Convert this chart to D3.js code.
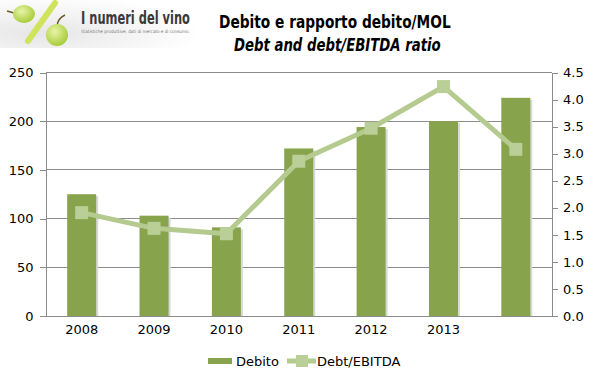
<!DOCTYPE html>
<html>
<head>
<meta charset="utf-8">
<script src="https://cdn.jsdelivr.net/npm/d3@7"></script>
<style>
  body { margin: 0; background: #fff; }
  svg { display: block; }
  text { font-family: "DejaVu Sans", Verdana, sans-serif; }
</style>
</head>
<body>
<svg id="chart" width="596" height="382"></svg>
<script>
// data
var years = ["2008", "2009", "2010", "2011", "2012", "2013", ""];
var debito = [125, 103, 91, 172, 194, 200, 224];
var ratio = [1.91, 1.62, 1.52, 2.86, 3.47, 4.24, 3.08];
var leftTicks = [0, 50, 100, 150, 200, 250];
var rightTicks = [0, 0.5, 1, 1.5, 2, 2.5, 3, 3.5, 4, 4.5];

var barColor = "#87a34b";
var lineColor = "#b4ca8f";
var gridColor = "#8c8c8c";

var svg = d3.select("#chart");
var margin = {left: 45.5, right: 552, top: 72.5, bottom: 316};

var x = d3.scaleBand()
    .domain(d3.range(years.length))
    .range([margin.left, margin.right])
    .paddingInner(0.6)
    .paddingOuter(0.3);
var yL = d3.scaleLinear().domain([0, 250]).range([margin.bottom, margin.top]);
var yR = d3.scaleLinear().domain([0, 4.5]).range([margin.bottom, margin.top]);
var band = (margin.right - margin.left) / years.length;
function cx(i){ return margin.left + band * (i + 0.5); }

// squeeze a text horizontally so it spans the given width
function fitText(t, px, py, w){
    var natural = t.node().getComputedTextLength();
    var k = w / natural;
    t.attr("x", 0).attr("y", 0)
     .attr("transform", "translate(" + px + "," + py + ") scale(" + k + ",1)");
    return t;
}

// logo (rough drawing)
var defs = svg.append("defs");
var lg = defs.append("radialGradient").attr("id", "logoBg").attr("cx", "20%").attr("cy", "70%").attr("r", "80%");
lg.append("stop").attr("offset", "0%").attr("stop-color", "#e6e6e6");
lg.append("stop").attr("offset", "100%").attr("stop-color", "#ffffff");
var gg = defs.append("radialGradient").attr("id", "grape").attr("cx", "40%").attr("cy", "35%").attr("r", "65%");
gg.append("stop").attr("offset", "0%").attr("stop-color", "#e8f4a8");
gg.append("stop").attr("offset", "100%").attr("stop-color", "#a9cc3a");

var logo = svg.append("g").attr("class", "logo");
logo.append("rect").attr("x", 0).attr("y", 0).attr("width", 200).attr("height", 48)
    .attr("fill", "url(#logoBg)");
logo.append("line").attr("x1", 7).attr("y1", 11).attr("x2", 14).attr("y2", 13)
    .attr("stroke", "#6b5a2a").attr("stroke-width", 1.5);
logo.append("ellipse").attr("cx", 24).attr("cy", 14).attr("rx", 11).attr("ry", 9)
    .attr("fill", "url(#grape)");
logo.append("line").attr("x1", 28).attr("y1", 41).attr("x2", 55).attr("y2", 3)
    .attr("stroke", "#cfe35c").attr("stroke-width", 6).attr("stroke-linecap", "round");
logo.append("path").attr("d", "M57,26 Q58,18 65,15")
    .attr("fill", "none").attr("stroke", "#6b5a2a").attr("stroke-width", 1.5);
logo.append("ellipse").attr("cx", 57).attr("cy", 35).attr("rx", 11).attr("ry", 11)
    .attr("fill", "url(#grape)");
fitText(logo.append("text").attr("font-family", "Liberation Sans, Arial, sans-serif")
    .attr("font-size", 18).attr("font-weight", "bold").attr("fill", "#3a3a3a")
    .text("I numeri del vino"), 81, 24, 109);
fitText(logo.append("text").attr("font-family", "Liberation Sans, Arial, sans-serif")
    .attr("font-size", 4.5).attr("fill", "#777")
    .text("Statistiche produttive, dati di mercato e di consumo."), 81, 33, 109);

// titles
fitText(svg.append("text")
    .attr("font-family", "Liberation Sans, Arial, sans-serif")
    .attr("font-weight", "bold").attr("font-size", 18).attr("fill", "#000")
    .text("Debito e rapporto debito/MOL"), 219, 28, 232);
fitText(svg.append("text")
    .attr("font-family", "Liberation Sans, Arial, sans-serif")
    .attr("font-weight", "bold").attr("font-style", "italic").attr("font-size", 18).attr("fill", "#000")
    .text("Debt and debt/EBITDA ratio"), 234, 51, 207);

// gridlines
svg.append("g").selectAll("line")
    .data(leftTicks.filter(function(d){ return d > 0; }))
    .enter().append("line")
    .attr("x1", margin.left).attr("x2", margin.right)
    .attr("y1", function(d){ return yL(d); }).attr("y2", function(d){ return yL(d); })
    .attr("stroke", gridColor).attr("stroke-width", 1).attr("shape-rendering", "crispEdges");

// axes
var leftAxis = svg.append("g")
    .attr("transform", "translate(" + margin.left + ",0)")
    .call(d3.axisLeft(yL).tickValues(leftTicks).tickSize(6).tickPadding(6).tickFormat(d3.format("d")));
var rightAxis = svg.append("g")
    .attr("transform", "translate(" + margin.right + ",0)")
    .call(d3.axisRight(yR).tickValues(rightTicks).tickSize(6).tickPadding(5).tickFormat(d3.format(".1f")));
[leftAxis, rightAxis].forEach(function(a){
    a.select(".domain").attr("stroke", gridColor).attr("shape-rendering", "crispEdges");
    a.selectAll(".tick line").attr("stroke", gridColor).attr("shape-rendering", "crispEdges");
    a.selectAll("text").attr("font-size", 13).attr("fill", "#000")
        .style("font-family", "DejaVu Sans, Verdana, sans-serif");
});
var bottomAxis = svg.append("g")
    .attr("transform", "translate(0," + margin.bottom + ")")
    .call(d3.axisBottom(x).tickSize(0).tickPadding(9).tickFormat(function(i){ return years[i]; }));
bottomAxis.select(".domain").attr("stroke", gridColor).attr("shape-rendering", "crispEdges");
bottomAxis.selectAll("text").attr("font-size", 13).attr("fill", "#000")
    .style("font-family", "DejaVu Sans, Verdana, sans-serif");

// bars with a faint shadow
var bars = svg.append("g");
bars.selectAll("rect.shadow")
    .data(debito).enter().append("rect")
    .attr("class", "shadow")
    .attr("x", function(d, i){ return cx(i) - 14.5 + 2; })
    .attr("y", function(d){ return yL(d) + 2; })
    .attr("width", 29)
    .attr("height", function(d){ return margin.bottom - yL(d) - 2; })
    .attr("fill", "#d8d8d8");
bars.selectAll("rect.bar")
    .data(debito).enter().append("rect")
    .attr("class", "bar")
    .attr("x", function(d, i){ return cx(i) - 14.5; })
    .attr("y", function(d){ return yL(d); })
    .attr("width", 29)
    .attr("height", function(d){ return margin.bottom - yL(d); })
    .attr("fill", barColor);

// ratio line
var line = d3.line()
    .x(function(d, i){ return cx(i); })
    .y(function(d){ return yR(d); });
svg.append("path").datum(ratio)
    .attr("d", line)
    .attr("fill", "none").attr("stroke", lineColor).attr("stroke-width", 5)
    .attr("stroke-linejoin", "round");
svg.append("g").selectAll("rect")
    .data(ratio).enter().append("rect")
    .attr("x", function(d, i){ return cx(i) - 6.5; })
    .attr("y", function(d){ return yR(d) - 6.5; })
    .attr("width", 13).attr("height", 13)
    .attr("fill", "#b9cf97");

// legend
var legend = svg.append("g").attr("transform", "translate(0,361)");
legend.append("rect").attr("x", 208).attr("y", -3).attr("width", 24).attr("height", 6).attr("fill", barColor);
legend.append("text").attr("x", 236).attr("y", 5).attr("font-size", 13).attr("fill", "#000")
    .style("font-family", "DejaVu Sans, Verdana, sans-serif").text("Debito");
legend.append("line").attr("x1", 287).attr("x2", 316).attr("y1", 0).attr("y2", 0)
    .attr("stroke", lineColor).attr("stroke-width", 5);
legend.append("rect").attr("x", 296).attr("y", -6).attr("width", 12).attr("height", 12).attr("fill", "#b9cf97");
legend.append("text").attr("x", 317).attr("y", 5).attr("font-size", 13).attr("fill", "#000")
    .style("font-family", "DejaVu Sans, Verdana, sans-serif").text("Debt/EBITDA");
</script>
</body>
</html>
